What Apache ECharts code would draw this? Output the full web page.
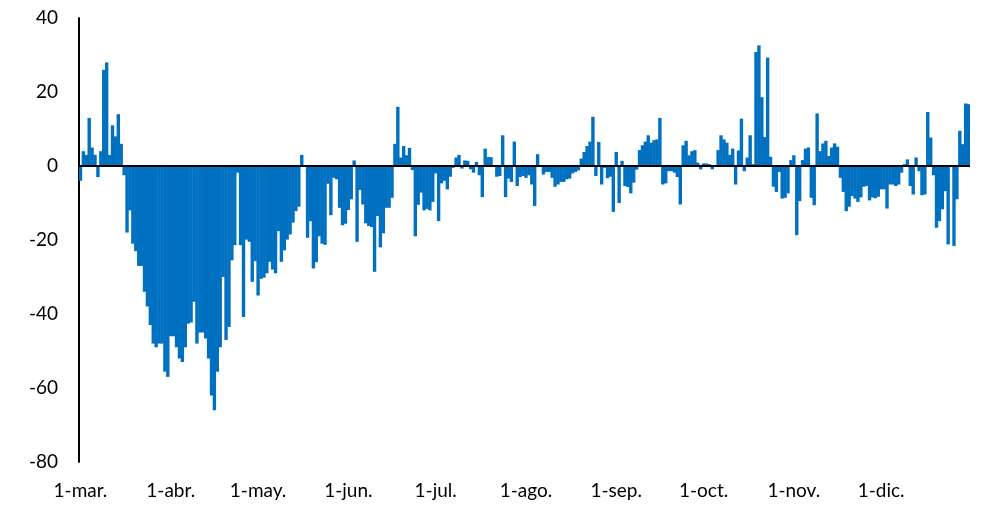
<!DOCTYPE html>
<html>
<head>
<meta charset="utf-8">
<script src="https://cdn.jsdelivr.net/npm/echarts@6/dist/echarts.min.js"></script>
<style>
    html, body { margin: 0; padding: 0; background: #fff; }
    #chart { width: 982px; height: 505px; }
</style>
</head>
<body>
<div id="chart"></div>
<script>
    // meses mostrados en el eje x (1-mar. a 31-dic.)
    const monthNames = ['mar.', 'abr.', 'may.', 'jun.', 'jul.', 'ago.', 'sep.', 'oct.', 'nov.', 'dic.'];
    const monthDays = [31, 30, 31, 30, 31, 31, 30, 31, 30, 31];

    // valores diarios
    const marValues = [-4, 4, 3, 13, 5, 3, -3, 4, 26, 28, 3, 11, 8, 14, 6, -2.5, -18, -12, -21, -23, -27, -27, -34, -38, -43, -48, -49, -48, -48, -55.6, -57];
    const abrValues = [-46, -46, -49, -52, -53, -49, -42.6, -42.3, -36.7, -48, -45, -45, -46.6, -52, -62, -66, -55.6, -49, -30, -47, -43.5, -25.5, -21.4, -1.8, -21.4, -40.8, -19.9, -20.5, -31.3, -25.7];
    const mayValues = [-35, -30.5, -30.2, -29, -25.9, -28, -29, -17.6, -25.9, -22.8, -19.9, -18.5, -15.3, -12.2, -11, 3, 0, -19.4, -14.9, -27.7, -26, -19, -21, -21.3, -4.8, -13.3, -3.2, -3.6, -11.3, -16, -15.6];
    const junValues = [-11.9, -9, 1.5, -20.5, -6.5, -10.4, -15.5, -16.2, -16.5, -28.6, -13.5, -22, -18.2, -11.3, -11.3, -8.6, 6, 16, 2.3, 5.4, 2.9, 4.9, -1.1, -19, -10.5, -7.2, -12, -11.6, -12, -9.7];
    const julValues = [-2, -14.9, -4.7, -4, -6.3, -2.9, -0.5, 2.3, 3, -0.7, 1.5, 1.4, -0.9, -1.8, 1.1, -2.5, -8.4, 4.7, 2.4, 2.4, 0, -2.9, -2.7, 8.3, -8.4, -3.4, -4.3, 6.6, -5.4, -3, -2.7];
    const agoValues = [-3.2, -2.5, -5, -10.8, 3.2, 0, -2.3, -1.6, -1.6, -3.2, -5.6, -5, -4.3, -4.3, -3.6, -3.4, -2, -1.6, -1.2, 2, 3.8, 5.4, 6.6, 13.3, -2.7, 6.5, -5, -0.5, -3.3, -2.9, -12.4];
    const sepValues = [3.8, -10, 1.4, -5.4, -5.7, -7.4, -4.5, -1, 4.3, 5.6, 6.6, 8.3, 6.3, 7, 7.2, 13, -5, -4.7, -1.4, -1.4, -1.8, -3, -10.4, 5.6, 6.8, 2.9, 4, 4.3, 0.9, -0.9];
    const octValues = [0.7, 0.7, 0.5, -0.9, 0, 4.3, 8.3, 7.2, 6.3, 3, 4.7, -5, 4.2, 12.8, -1.4, 2.3, 8.3, 0.5, 30.8, 32.6, 18.6, 7.8, 29.3, 2.5, -5.6, -7, -1.6, -8.8, -8.6, -7.4, 1.6];
    const novValues = [2.9, -18.7, -9.5, 1.6, 4.7, 5, -8.6, -10.6, 14.2, 4, 6.1, 6.8, 2.7, 5, 6.1, 5.2, -3.2, -7, -12.2, -11, -8.1, -8.8, -9.7, -8.5, -5.6, -5.4, -9.3, -8.5, -8.7, -8.3];
    const dicValues = [-6.3, -6.3, -11.5, -5, -5, -5.4, -5, -1.8, 0.5, 1.8, -5.4, -7.7, 2.3, -1.4, -7.9, -7.7, 14.6, 7.7, -2.5, -16.7, -14.9, -11.7, -6.8, -21.2, 0, -21.6, -9, 9.5, 5.9, 16.9, 16.7];

    const yTicks = [-80, -60, -40, -20, 0, 20, 40];

    let categories = [];
    for (let m = 0; m < monthNames.length; ++m) {
        for (let d = 1; d <= monthDays[m]; ++d) {
            categories.push(d + '-' + monthNames[m]);
        }
    }
    const values = [].concat(marValues, abrValues, mayValues, junValues, julValues,
        agoValues, sepValues, octValues, novValues, dicValues);

    const myChart = echarts.init(document.getElementById('chart'));
    const fontFamily = 'Lato, "DejaVu Sans", sans-serif';
    const barColor = '#0070C0';

    let options = {
        animation: false,
        grid: {
            left: 79,
            right: 12,
            top: 18,
            bottom: 43
        },
        xAxis: {
            type: 'category',
            data: categories,
            axisLine: { show: false },
            axisTick: { show: false },
            axisLabel: {
                interval: function (index, value) {
                    return value.indexOf('1-') === 0;
                },
                margin: 19,
                color: '#000',
                fontSize: 19,
                fontFamily: fontFamily
            }
        },
        yAxis: {
            type: 'value',
            min: yTicks[0],
            max: yTicks[yTicks.length - 1],
            interval: 20,
            axisLine: { show: true, lineStyle: { color: '#000', width: 2 } },
            axisTick: { show: false },
            splitLine: { show: false },
            axisLabel: {
                margin: 21,
                color: '#000',
                fontSize: 19,
                fontFamily: fontFamily
            }
        },
        series: [{
            type: 'bar',
            data: values,
            barWidth: 3.4,
            itemStyle: { color: barColor },
            markLine: {
                silent: true,
                symbol: 'none',
                label: { show: false },
                lineStyle: { color: '#000', width: 2, type: 'solid' },
                data: [{ yAxis: 0 }]
            }
        }]
    };
    myChart.setOption(options, true);
</script>
</body>
</html>
